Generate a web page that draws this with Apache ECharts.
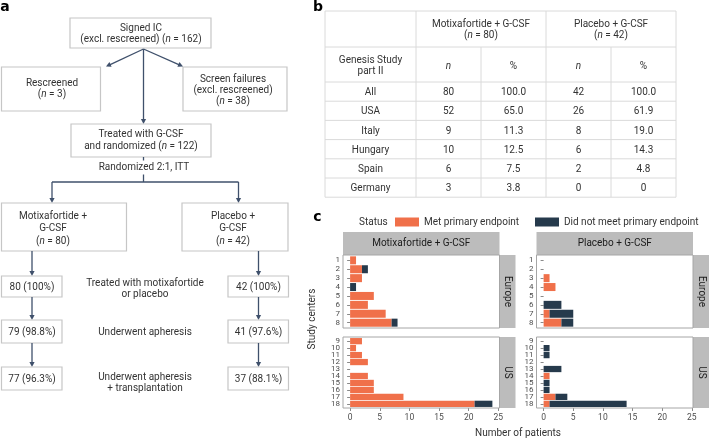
<!DOCTYPE html>
<html><head><meta charset="utf-8">
<script src="https://cdn.jsdelivr.net/npm/echarts@6/dist/echarts.min.js"></script>
<style>html,body{margin:0;padding:0;background:#fff}#c{width:709px;height:438px}</style>
</head><body><div id="c"></div>
<script>
// ---------- data ----------
const centersEurope = ['1','2','3','4','5','6','7','8'];
const centersUS = ['9','10','11','12','13','14','15','16','17','18'];
const motiEuropeMet = [1,2,2,0,4,3,6,7];
const motiEuropeNot = [0,1,0,1,0,0,0,1];
const motiUSMet = [2,1,2,3,0,3,4,4,9,21];
const motiUSNot = [0,0,0,0,0,0,0,0,0,3];
const placEuropeMet = [0,0,1,2,0,0,1,3];
const placEuropeNot = [0,0,0,0,0,3,4,2];
const placUSMet = [0,0,0,0,0,1,0,0,2,1];
const placUSNot = [0,1,1,0,3,0,1,1,2,13];
const xMin = 0, xMax = 25, xStep = 5;
const statusNames = ['Met primary endpoint','Did not meet primary endpoint'];

const tableCountries = ['All','USA','Italy','Hungary','Spain','Germany'];
const motiN = ['80','52','9','10','6','3'];
const motiPct = ['100.0','65.0','11.3','12.5','7.5','3.8'];
const placN = ['42','26','8','6','2','0'];
const placPct = ['100.0','61.9','19.0','14.3','4.8','0'];

const flowLeft = ['80 (100%)','79 (98.8%)','77 (96.3%)'];
const flowRight = ['42 (100%)','41 (97.6%)','37 (88.1%)'];
const flowMid = ['Treated with motixafortide\nor placebo','Underwent apheresis','Underwent apheresis\n+ transplantation'];

// ---------- helpers ----------
const FONT = 'Roboto, "Noto Sans", sans-serif';
const TXT = '#333333';
const BOXC = '#c6c6c6';
const ARC = '#3f506b';
const ORANGE = '#F0704A';
const DARK = '#263A4C';
const G = [];
function rect(x,y,w,h,stroke,fill,lw,z){G.push({type:'rect',z:z||1,shape:{x:x,y:y,width:w,height:h},style:{stroke:stroke||'none',fill:fill||'none',lineWidth:lw||1}});}
function line(x1,y1,x2,y2,color,lw,z){G.push({type:'line',z:z||1,shape:{x1:x1,y1:y1,x2:x2,y2:y2},style:{stroke:color,lineWidth:lw||1}});}
function arrow(x1,y1,x2,y2){
  const dx=x2-x1, dy=y2-y1, L=Math.sqrt(dx*dx+dy*dy), ux=dx/L, uy=dy/L;
  const hl=5, hw=2.6;
  line(x1,y1,x2-ux*hl*0.8,y2-uy*hl*0.8,ARC,1.3);
  const bx=x2-ux*hl, by=y2-uy*hl;
  G.push({type:'polygon',z:1,shape:{points:[[x2,y2],[bx-uy*hw,by+ux*hw],[bx+uy*hw,by-ux*hw]]},style:{fill:ARC}});
}
function txt(x,y,text,o){
  o=o||{};
  const fs=o.fs||10;
  const el={type:'text',z:o.z||3,x:x,y:y,rotation:o.rot||0,style:{
    text:text,fill:o.color||TXT,fontSize:fs,fontFamily:o.family||FONT,fontWeight:o.weight||'normal',
    align:o.align||'center',verticalAlign:'middle',textAlign:o.align||'center',textVerticalAlign:'middle',
    lineHeight:o.lh||Math.round(fs*1.15),
    rich:{i:{fontStyle:'italic',fontSize:fs,fontFamily:o.family||FONT,fill:o.color||TXT,lineHeight:o.lh||Math.round(fs*1.15)}}
  }};
  if(o.bg){el.style.backgroundColor=o.bg;el.style.padding=o.pad||[1,3];}
  G.push(el);
}

// ---------- panel labels ----------
txt(5,7,'a',{fs:14,weight:'900',family:'"DejaVu Sans", sans-serif',color:'#000'});
txt(318,7,'b',{fs:14,weight:'900',family:'"DejaVu Sans", sans-serif',color:'#000'});
txt(317.5,217,'c',{fs:14,weight:'900',family:'"DejaVu Sans", sans-serif',color:'#000'});

// ---------- panel a: flow chart ----------
rect(70,18,141,30,BOXC,'#fff',1.2);
txt(141,34,'Signed IC\n(excl. rescreened) ({i|n} = 162)',{lh:11.5});
rect(1.5,67,99,44,BOXC,'#fff',1.2);
txt(52,89,'Rescreened\n({i|n} = 3)',{lh:11.5});
rect(183,67,104,44,BOXC,'#fff',1.2);
txt(233,90,'Screen failures\n(excl. rescreened)\n({i|n} = 38)',{lh:11});
arrow(143.5,49,106,66.5);
arrow(143.5,49,183,66.5);
arrow(143.5,49,143.5,124);
rect(71,124,140,33,BOXC,'#fff',1.2);
txt(141,140.5,'Treated with G-CSF\nand randomized ({i|n} = 122)',{lh:11.5});
line(143.5,157,143.5,182,ARC,1.3);
txt(144,167.5,'Randomized 2:1, ITT',{bg:'#fff',pad:[1,3]});
line(52,182,238.5,182,ARC,1.3);
arrow(52,182,52,203);
arrow(238.5,182,238.5,203);
rect(1.5,203,125,48,BOXC,'#fff',1.2);
txt(53,228.5,'Motixafortide +\nG-CSF\n({i|n} = 80)',{lh:12.5});
rect(182,203,106,48,BOXC,'#fff',1.2);
txt(233,228.5,'Placebo +\nG-CSF\n({i|n} = 42)',{lh:12.5});
const rowTop=[276,320,367], rowH=[21,23,23];
const prevBottom=[251,297,343];
for(let i=0;i<3;i++){
  arrow(32,prevBottom[i],32,rowTop[i]);
  arrow(258.5,prevBottom[i],258.5,rowTop[i]);
  rect(1.5,rowTop[i],60.5,rowH[i],BOXC,'#fff',1.2);
  rect(228,rowTop[i],60.5,rowH[i],BOXC,'#fff',1.2);
  txt(32,rowTop[i]+rowH[i]/2+0.5,flowLeft[i]);
  txt(258.5,rowTop[i]+rowH[i]/2+0.5,flowRight[i]);
}
txt(145,288.5,flowMid[0],{lh:11});
txt(145,332,flowMid[1]);
txt(145,382.5,flowMid[2],{lh:11});

// ---------- panel b: table ----------
const TC='#dadada';
const colX=[325,416,481,546,611,676];
const rowY=[11,47,82];
for(let i=1;i<=6;i++) rowY.push(82+i*19.2);
rowY.forEach(y=>line(colX[0],y,colX[5],y,TC,1));
[325,416,546,676].forEach(x=>line(x,11,x,rowY[8],TC,1));
[481,611].forEach(x=>line(x,47,x,rowY[8],TC,1));
txt(481,29.5,'Motixafortide + G-CSF\n({i|n} = 80)',{lh:11});
txt(611,29.5,'Placebo + G-CSF\n({i|n} = 42)',{lh:11});
txt(370.5,65.5,'Genesis Study\npart II',{lh:11});
txt(448.5,66,'{i|n}');txt(513.5,66,'%');txt(578.5,66,'{i|n}');txt(643.5,66,'%');
for(let r=0;r<tableCountries.length;r++){
  const cy=rowY[r+2]+9.6+1;
  txt(370.5,cy,tableCountries[r]);
  txt(448.5,cy,motiN[r]);
  txt(513.5,cy,motiPct[r]);
  txt(578.5,cy,placN[r]);
  txt(643.5,cy,placPct[r]);
}

// ---------- panel c: facets ----------
const STRIP='#bcbcbc', FRAME='#a6a6a6';
const panelsX=[[343,499.5],[536.5,693]];
const panelsY=[[255,328],[337,408]];
const stripTitles=['Motixafortide + G-CSF','Placebo + G-CSF'];
const rowTitles=['Europe','US'];
txt(359,222,'Status',{align:'left'});
panelsX.forEach((px,ci)=>{
  rect(px[0],232,px[1]-px[0],23,'none',STRIP,0,0);
  txt((px[0]+px[1])/2,243.5,stripTitles[ci],{color:'#1a1a1a'});
  panelsY.forEach((py,ri)=>{
    rect(px[0],py[0],px[1]-px[0],py[1]-py[0],FRAME,'none',1,5);
    rect(px[1],py[0],16,py[1]-py[0],'none',STRIP,0,0);
    txt(px[1]+8,(py[0]+py[1])/2,rowTitles[ri],{rot:-Math.PI/2,color:'#1a1a1a'});
  });
});
txt(518,433,'Number of patients');
txt(312,319,'Study centers',{rot:Math.PI/2});

// grids via ggplot-like expansion
const expand=(xMax-xMin)*0; // x limits already padded by panel frame
const dataMax=24, pad=dataMax*0.05;
function gridFor(px,py,n){
  const unit=(px[1]-px[0])/(dataMax+2*pad);
  const left=px[0]+pad*unit;
  const bandUnit=(py[1]-py[0])/(n-1+1.2);
  return {left:left,width:(xMax-xMin)*unit,top:py[0]+0.1*bandUnit,height:n*bandUnit};
}
const cats=[centersEurope,centersUS];
const dataSets=[[[motiEuropeMet,motiEuropeNot],[motiUSMet,motiUSNot]],[[placEuropeMet,placEuropeNot],[placUSMet,placUSNot]]];
const grids=[],xAxes=[],yAxes=[],series=[];
let gi=0;
for(let ci=0;ci<2;ci++){
  for(let ri=0;ri<2;ri++){
    const g=gridFor(panelsX[ci],panelsY[ri],cats[ri].length);
    grids.push({left:g.left,top:g.top,width:g.width,height:g.height,containLabel:false});
    xAxes.push({type:'value',gridIndex:gi,min:xMin,max:xMax,interval:xStep,show:ri===1,
      offset:panelsY[ri][1]-(g.top+g.height),
      axisLine:{show:false},splitLine:{show:false},
      axisTick:{show:true,length:3,lineStyle:{color:'#8a8a8a'}},
      axisLabel:{fontSize:8.5,color:'#4d4d4d',margin:5,fontFamily:FONT}});
    yAxes.push({type:'category',gridIndex:gi,data:cats[ri],inverse:true,
      offset:g.left-panelsX[ci][0],
      axisLine:{show:false},splitLine:{show:false},
      axisTick:{show:true,alignWithLabel:true,length:3,lineStyle:{color:'#8a8a8a'}},
      axisLabel:{fontSize:8,color:'#4d4d4d',margin:3,fontFamily:FONT,interval:0}});
    const ds=dataSets[ci][ri];
    series.push({type:'bar',name:statusNames[0],xAxisIndex:gi,yAxisIndex:gi,stack:'s'+gi,data:ds[0],barCategoryGap:'10%',itemStyle:{color:ORANGE}});
    series.push({type:'bar',name:statusNames[1],xAxisIndex:gi,yAxisIndex:gi,stack:'s'+gi,data:ds[1],barCategoryGap:'10%',itemStyle:{color:DARK}});
    gi++;
  }
}

const chart=echarts.init(document.getElementById('c'));
chart.setOption({
  animation:false,
  backgroundColor:'#fff',
  textStyle:{fontFamily:FONT},
  legend:[
    {data:[statusNames[0]],left:395,top:217,padding:0,itemWidth:24,itemHeight:9,icon:'rect',selectedMode:false,textStyle:{fontSize:10,color:TXT,fontFamily:FONT}},
    {data:[statusNames[1]],left:535,top:217,padding:0,itemWidth:24,itemHeight:9,icon:'rect',selectedMode:false,textStyle:{fontSize:10,color:TXT,fontFamily:FONT}}
  ],
  grid:grids,xAxis:xAxes,yAxis:yAxes,series:series,
  graphic:{elements:G}
});
</script></body></html>
